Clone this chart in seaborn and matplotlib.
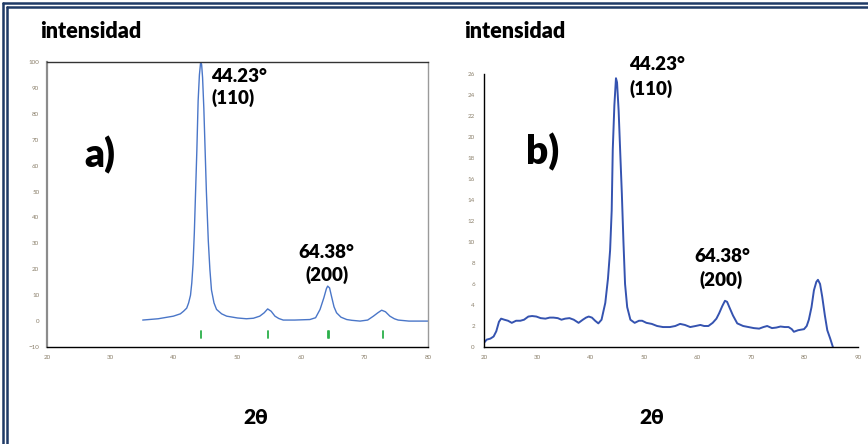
import matplotlib
matplotlib.use("Agg")
import matplotlib.pyplot as plt
import seaborn as sns
from matplotlib.lines import Line2D
from matplotlib.ticker import MultipleLocator

sns.set_style("white")
plt.rcParams['font.family'] = ['Lato', 'DejaVu Sans']

# ---- data: panel a (reference pattern) ----
a_2theta = [35.07, 37.5, 39.9, 41.0, 41.5, 42.0, 42.3, 42.6, 42.8, 43.0, 43.2, 43.4, 43.6,
            43.8, 44.0, 44.2, 44.35, 44.5, 44.7, 44.9, 45.1, 45.4, 45.65, 45.9, 46.3, 46.7,
            47.5, 48.3, 50.0, 51.4, 52.5, 53.5, 54.2, 54.75, 55.3, 55.9, 56.5, 57.2, 59.0,
            61.4, 62.3, 63.0, 63.6, 64.0, 64.2, 64.5, 64.8, 65.2, 65.6, 66.3, 67.2, 68.0,
            69.3, 70.5, 71.4, 72.1, 72.7, 73.3, 74.0, 74.7, 75.3, 77.0, 80.0]
a_int = [0.4, 0.9, 1.9, 2.8, 3.8, 5.0, 7.0, 10.0, 14.7, 22.0, 34.0, 50.0, 66.0,
         85.0, 95.0, 100.0, 99.0, 94.0, 82.0, 66.0, 50.0, 31.0, 20.0, 12.0, 7.0, 4.5,
         2.8, 1.9, 1.2, 0.9, 1.1, 1.9, 3.2, 4.7, 3.8, 1.9, 1.0, 0.4, 0.4,
         0.6, 1.3, 4.5, 9.0, 12.5, 13.5, 12.8, 9.6, 5.5, 3.2, 1.5, 0.6, 0.3,
         0.0, 0.4, 1.9, 3.2, 4.2, 3.6, 1.9, 0.9, 0.4, 0.0, 0.0]
a_marks = [44.2, 54.8, 64.2, 64.45, 72.9]

# ---- data: panel b (sample) ----
b_2theta = [20.0, 20.5, 21.2, 21.8, 22.3, 22.8, 23.2, 23.8, 24.5, 25.2, 26.0, 26.8, 27.5,
            28.3, 29.0, 29.8, 30.6, 31.5, 32.3, 33.0, 33.8, 34.5, 35.2, 36.0, 36.8, 37.7,
            38.5, 39.1, 39.6, 40.2, 40.8, 41.4, 42.0, 42.7, 43.2, 43.6, 43.9, 44.1, 44.4,
            44.7, 44.9, 45.2, 45.5, 45.8, 46.1, 46.4, 46.8, 47.4, 48.2, 49.0, 49.6, 50.4,
            51.4, 52.4, 53.5, 54.8, 55.8, 56.7, 57.6, 58.6, 59.6, 60.5, 61.2, 62.0, 62.8,
            63.5, 64.0, 64.6, 65.1, 65.5, 66.0, 66.6, 67.4, 68.5, 69.5, 70.5, 71.5, 72.3,
            73.0, 73.9, 74.7, 75.5, 76.3, 77.0, 77.6, 78.0, 78.8, 79.9, 80.4, 80.8, 81.3,
            81.75, 82.2, 82.5, 82.9, 83.3, 83.8, 84.25, 84.8, 85.3]
b_int = [0.4, 0.7, 0.8, 1.0, 1.5, 2.4, 2.7, 2.6, 2.5, 2.3, 2.5, 2.5, 2.6,
         2.9, 2.95, 2.9, 2.75, 2.7, 2.8, 2.8, 2.75, 2.6, 2.7, 2.75, 2.6, 2.3,
         2.6, 2.8, 2.9, 2.8, 2.5, 2.25, 2.6, 4.2, 6.5, 9.2, 13.0, 18.8, 23.0,
         25.6, 25.2, 22.5, 18.5, 14.6, 10.0, 6.0, 3.8, 2.6, 2.3, 2.5, 2.5, 2.3,
         2.2, 2.0, 1.9, 1.9, 2.0, 2.2, 2.1, 1.9, 2.0, 2.1, 2.0, 2.0, 2.3,
         2.7, 3.2, 3.9, 4.4, 4.3, 3.7, 3.0, 2.25, 2.0, 1.9, 1.8, 1.75, 1.9,
         2.0, 1.8, 1.85, 1.95, 1.9, 1.9, 1.7, 1.45, 1.6, 1.7, 2.0, 2.6, 3.8,
         5.4, 6.2, 6.4, 6.0, 4.8, 3.0, 1.6, 0.8, 0.0]

fig = plt.figure(figsize=(8.68, 4.44), dpi=100)
fig.patch.set_facecolor("white")

label_font = dict(fontweight="heavy", color="black")

# ---------- panel a ----------
axa = fig.add_axes([47 / 868, 1 - 347 / 444, 381 / 868, 285 / 444])
sns.lineplot(x=a_2theta, y=a_int, ax=axa, color="#4a76c8", linewidth=1.0)
for m in a_marks:
    axa.plot([m, m], [-3.8, -6.6], color="#2bb04a", linewidth=1.3)
axa.set_xlim(20, 80)
axa.set_ylim(-10, 100)
axa.xaxis.set_major_locator(MultipleLocator(10))
axa.xaxis.set_minor_locator(MultipleLocator(5))
axa.yaxis.set_major_locator(MultipleLocator(10))
axa.yaxis.set_minor_locator(MultipleLocator(5))
axa.tick_params(axis="both", which="both", labelsize=4.5, labelcolor="#8a7f6a",
                length=3, width=0.8, color="black")
axa.tick_params(axis="x", which="both", direction="inout", length=5)
axa.tick_params(axis="y", which="both", direction="out", length=2)
axa.spines["left"].set_color("#8c8c8c")
axa.spines["left"].set_linewidth(1.6)
axa.spines["bottom"].set_color("black")
axa.spines["bottom"].set_linewidth(1.0)
axa.spines["top"].set_color("#333333")
axa.spines["top"].set_linewidth(1.0)
axa.spines["right"].set_color("#9a9a9a")
axa.spines["right"].set_linewidth(1.0)
axa.set_xlabel("")
axa.set_ylabel("")

# ---------- panel b ----------
axb = fig.add_axes([484 / 868, 1 - 347 / 444, 374 / 868, 273 / 444])
sns.lineplot(x=b_2theta, y=b_int, ax=axb, color="#3553b0", linewidth=1.4)
axb.set_xlim(20, 90)
axb.set_ylim(0, 26)
axb.xaxis.set_major_locator(MultipleLocator(10))
axb.xaxis.set_minor_locator(MultipleLocator(5))
axb.yaxis.set_major_locator(MultipleLocator(2))
axb.yaxis.set_minor_locator(MultipleLocator(1))
axb.tick_params(axis="both", which="both", labelsize=4.5, labelcolor="#8a7f6a",
                width=0.8, color="black")
axb.tick_params(axis="x", which="both", direction="inout", length=5)
axb.tick_params(axis="y", which="major", direction="out", length=3)
axb.tick_params(axis="y", which="minor", direction="out", length=2)
axb.spines["top"].set_visible(False)
axb.spines["right"].set_visible(False)
axb.spines["left"].set_color("black")
axb.spines["left"].set_linewidth(1.0)
axb.spines["bottom"].set_color("black")
axb.spines["bottom"].set_linewidth(1.0)
axb.set_xlabel("")
axb.set_ylabel("")

# ---------- texts ----------
def ftext(px, py, s, size, ha="left"):
    fig.text(px / 868, 1 - py / 444, s, fontsize=size, ha=ha, va="center", **label_font)

ftext(40, 32, "intensidad", 15.5)
ftext(464, 32, "intensidad", 15.5)
ftext(84, 155, "a)", 28)
ftext(526, 152, "b)", 28)
ftext(211, 76, "44.23°", 13.5)
ftext(212, 98, "(110)", 13.5)
ftext(298, 252, "64.38°", 13.5)
ftext(305, 275, "(200)", 13.5)
ftext(629, 64, "44.23°", 13.5)
ftext(630, 89, "(110)", 13.5)
ftext(694, 256, "64.38°", 13.5)
ftext(700, 280, "(200)", 13.5)
ftext(243, 417, "2θ", 15)
ftext(639, 417, "2θ", 15)

# ---------- double border (top and left) ----------
navy = "#1f3a66"
for off in (3, 7):
    fig.add_artist(Line2D([off / 868, 1], [1 - off / 444, 1 - off / 444],
                          transform=fig.transFigure, color=navy, linewidth=1.8))
    fig.add_artist(Line2D([off / 868, off / 868], [1 - off / 444, 0],
                          transform=fig.transFigure, color=navy, linewidth=1.8))

fig.savefig("out.png", dpi=100, facecolor="white")
